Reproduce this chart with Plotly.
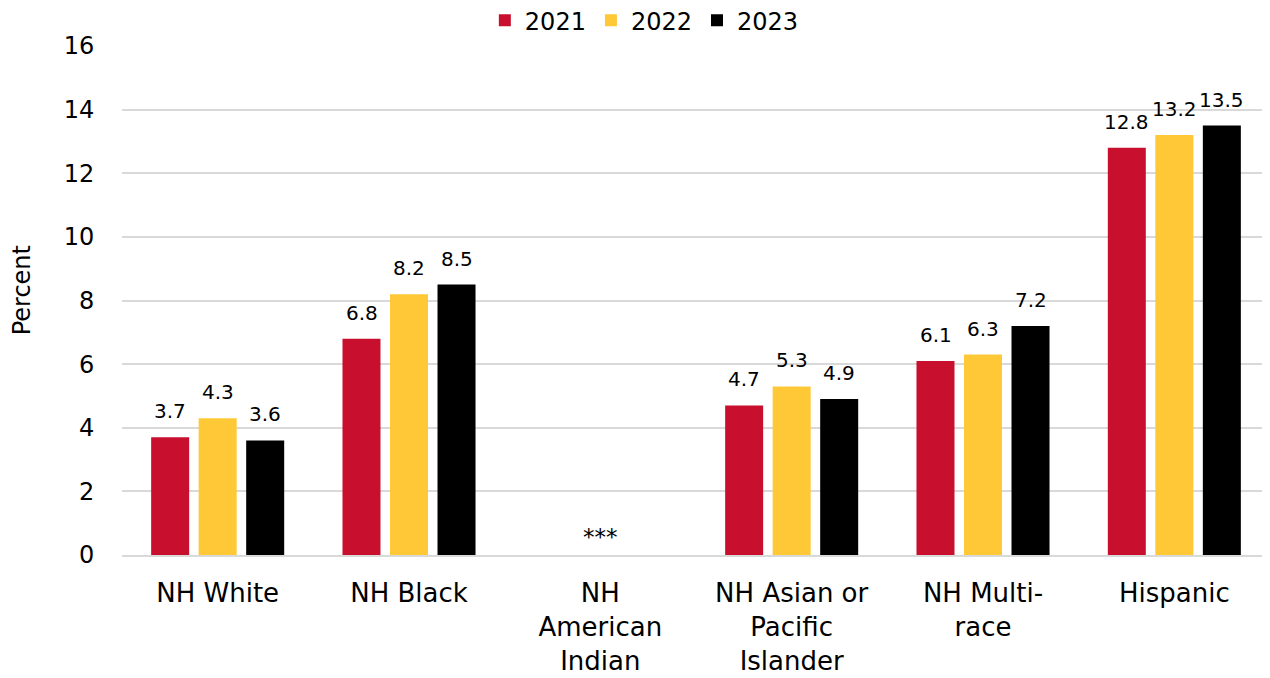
import plotly.graph_objects as go

# data
groups = ["NH White", "NH Black", "NH<br>American<br>Indian",
          "NH Asian or<br>Pacific<br>Islander", "NH Multi-<br>race", "Hispanic"]
years = ["2021", "2022", "2023"]
vals_2021 = [3.7, 6.8, None, 4.7, 6.1, 12.8]
vals_2022 = [4.3, 8.2, None, 5.3, 6.3, 13.2]
vals_2023 = [3.6, 8.5, None, 4.9, 7.2, 13.5]
suppressed_group = groups[2]

colors = ["#C8102E", "#FFC836", "#000000"]
font_name = "DejaVu Sans, sans-serif"
slot_px = 47.5  # distance between bar centres inside a group

fig = go.Figure()
series = [vals_2021, vals_2022, vals_2023]
for i, (yr, vals, col) in enumerate(zip(years, series, colors)):
    fig.add_trace(go.Bar(
        x=groups, y=vals, name=yr,
        marker=dict(color=col, line=dict(width=0)),
    ))
    # value labels above each bar
    for g, v in zip(groups, vals):
        if v is None:
            continue
        fig.add_annotation(x=g, y=v, text=f"{v:.1f}", showarrow=False,
                           xshift=(i - 1) * slot_px, yshift=12, yanchor="bottom",
                           font=dict(size=20, color="#000000", family=font_name))

# *** marker for the suppressed group
fig.add_annotation(x=suppressed_group, y=0, text="***", showarrow=False,
                   yanchor="bottom", yshift=3,
                   font=dict(size=23, color="#000000", family=font_name))

# y-axis title
fig.add_annotation(xref="paper", yref="paper", x=0, y=0.52, xshift=-100,
                   xanchor="center", yanchor="middle",
                   text="Percent", textangle=-90, showarrow=False,
                   font=dict(size=24, color="#000000", family=font_name))

# page body has an 8px margin, so the figure is 8px smaller and margins shifted
fig.update_layout(
    width=1262, height=670,
    margin=dict(l=114, r=0, t=38, b=123, autoexpand=False),
    paper_bgcolor="white", plot_bgcolor="white",
    barmode="group", bargap=0.255, bargroupgap=0.2,
    font=dict(family=font_name, color="#000000"),
    legend=dict(orientation="h", x=0.455, xanchor="center", y=1.05, yanchor="middle",
                font=dict(size=24), traceorder="normal", itemwidth=30),
    showlegend=True,
)
fig.update_xaxes(tickfont=dict(size=26), showgrid=False, showline=True,
                 linecolor="#D9D9D9", linewidth=2,
                 ticks="outside", ticklen=14, tickcolor="rgba(0,0,0,0)")
fig.update_yaxes(range=[0, 16], dtick=2, showgrid=True, gridcolor="#D9D9D9",
                 gridwidth=2, zeroline=False, tickfont=dict(size=24),
                 ticks="outside", ticklen=22, tickcolor="rgba(0,0,0,0)")

fig.write_html("out.html")
